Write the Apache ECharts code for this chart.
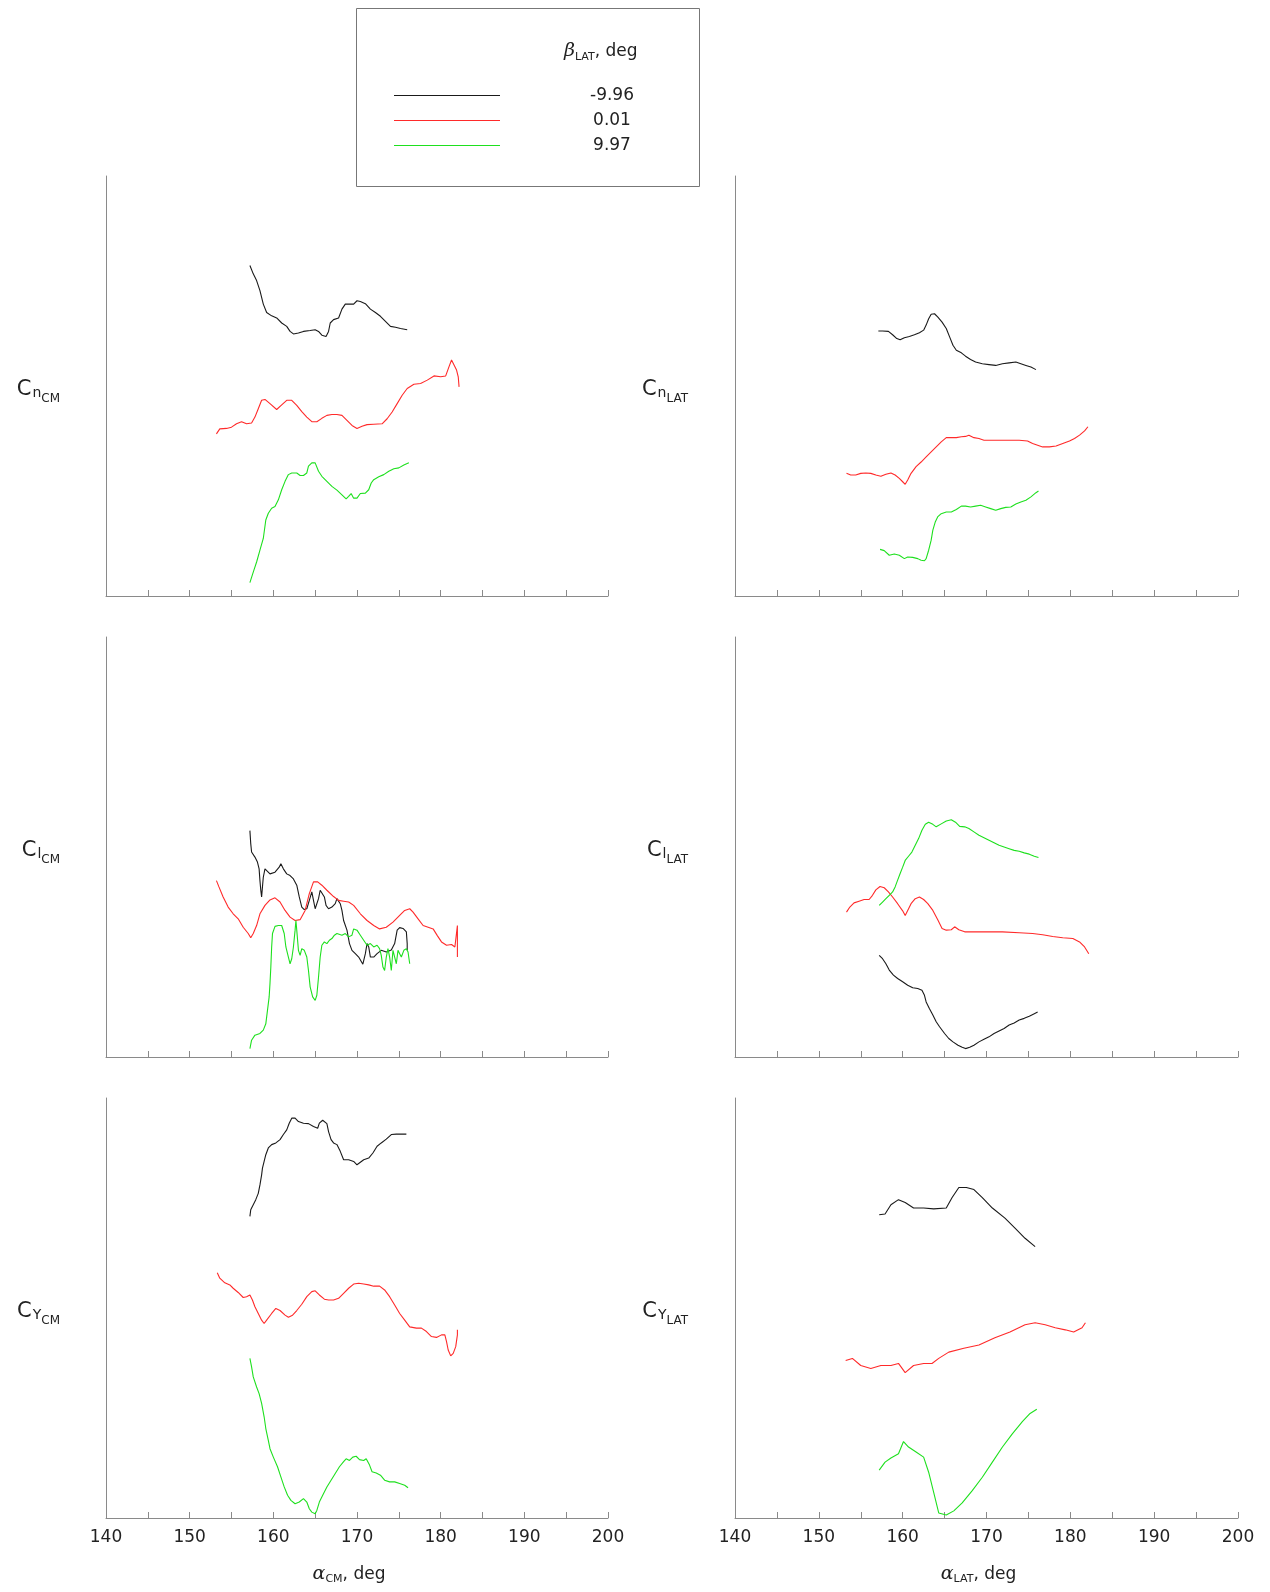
<!DOCTYPE html>
<html>
<head>
<meta charset="utf-8">
<script src="https://cdn.jsdelivr.net/npm/echarts@6/dist/echarts.min.js"></script>
<style>
html,body{margin:0;padding:0;background:#fff;}
#chart{width:1270px;height:1592px;}
</style>
</head>
<body>
<div id="chart"></div>
<script>
// ---- legend / categories ----
const betaNames = ['-9.96', '0.01', '9.97'];
const xTicks = [140, 150, 160, 170, 180, 190, 200];

// ---- Cn_CM ----
const cnCM_neg = [[157.2,78.7],[157.6,76.7],[158.0,75.1],[158.4,72.7],[158.8,69.5],[159.2,67.5],[159.8,66.7],[160.4,66.2],[161.0,65.0],[161.6,64.2],[162.0,63.0],[162.4,62.4],[163.0,62.6],[163.6,63.0],[164.4,63.2],[165.0,63.4],[165.4,63.0],[165.8,62.1],[166.3,61.8],[166.6,63.0],[166.8,65.0],[167.2,65.8],[167.8,66.2],[168.2,68.3],[168.6,69.5],[169.2,69.5],[169.6,69.5],[170.0,70.3],[170.4,70.1],[171.0,69.6],[171.6,68.3],[172.2,67.5],[172.8,66.6],[173.4,65.4],[174.0,64.2],[174.6,64.0],[175.2,63.7],[176.0,63.4]];
const cnCM_zero = [[153.2,38.6],[153.6,39.8],[154.4,39.9],[155.0,40.2],[155.6,41.0],[156.2,41.5],[156.8,41.0],[157.4,41.2],[157.8,42.6],[158.2,44.6],[158.6,46.6],[159.0,46.8],[159.6,45.8],[160.4,44.4],[161.0,45.5],[161.6,46.6],[162.2,46.6],[162.8,45.4],[163.4,43.9],[164.0,42.6],[164.6,41.5],[165.2,41.5],[165.8,42.3],[166.4,43.0],[167.0,43.2],[167.6,43.2],[168.2,43.0],[168.8,41.8],[169.4,40.6],[170.0,39.9],[170.6,40.4],[171.2,40.8],[172.0,40.9],[173.0,41.0],[173.6,42.2],[174.2,43.8],[174.8,45.8],[175.4,47.8],[176.0,49.4],[176.8,50.4],[177.6,50.6],[178.4,51.4],[179.2,52.4],[180.0,52.2],[180.6,52.4],[181.0,54.6],[181.3,56.2],[181.6,55.0],[181.9,53.8],[182.1,52.2],[182.2,49.8]];
const cnCM_pos = [[157.2,3.2],[157.6,5.7],[158.0,8.1],[158.4,10.9],[158.8,13.7],[159.1,18.1],[159.4,19.7],[159.8,20.9],[160.2,21.3],[160.6,22.9],[161.0,25.3],[161.4,27.3],[161.8,28.9],[162.2,29.3],[162.8,29.3],[163.2,28.7],[163.6,28.7],[164.0,29.3],[164.2,30.9],[164.6,31.7],[165.0,31.7],[165.4,29.7],[165.8,28.5],[166.4,27.3],[167.0,26.1],[167.6,25.2],[168.2,24.1],[168.7,23.1],[169.0,23.7],[169.3,24.4],[169.6,23.3],[170.0,23.3],[170.4,24.4],[171.0,24.5],[171.4,25.3],[171.7,26.9],[172.0,27.7],[172.6,28.4],[173.2,28.9],[173.8,29.7],[174.4,30.3],[175.0,30.5],[175.6,31.2],[176.2,31.7]];

// ---- Cn_LAT ----
const cnLAT_neg = [[157.1,63.1],[157.6,63.1],[158.3,63.0],[158.8,62.2],[159.3,61.3],[159.7,61.0],[160.2,61.5],[160.8,61.8],[161.4,62.2],[162.0,62.7],[162.5,63.3],[162.8,64.5],[163.1,66.0],[163.4,67.1],[163.8,67.2],[164.2,66.4],[164.7,65.2],[165.2,63.7],[165.6,61.7],[166.0,59.7],[166.4,58.5],[167.0,57.9],[167.5,57.1],[168.1,56.3],[168.7,55.7],[169.5,55.3],[170.3,55.1],[171.1,54.9],[171.9,55.3],[172.7,55.5],[173.5,55.7],[174.1,55.3],[174.7,54.9],[175.3,54.5],[175.9,53.9]];
const cnLAT_zero = [[153.3,29.2],[153.8,28.8],[154.4,28.8],[155.0,29.2],[155.6,29.3],[156.2,29.2],[156.8,28.8],[157.4,28.5],[158.0,29.0],[158.6,29.3],[159.1,28.8],[159.6,28.0],[160.0,27.2],[160.3,26.6],[160.6,27.6],[161.0,29.2],[161.6,30.8],[162.2,31.9],[162.8,33.1],[163.4,34.3],[164.0,35.5],[164.6,36.7],[165.2,37.7],[165.8,37.7],[166.4,37.7],[167.0,37.9],[167.5,38.0],[167.9,38.3],[168.5,37.7],[169.1,37.5],[169.7,37.1],[170.5,37.1],[171.5,37.1],[172.7,37.1],[173.9,37.1],[174.9,36.9],[175.5,36.3],[176.1,35.9],[176.7,35.5],[177.5,35.5],[178.3,35.7],[179.1,36.3],[179.9,36.9],[180.5,37.5],[181.1,38.3],[181.7,39.3],[182.1,40.3]];
const cnLAT_pos = [[157.3,11.1],[157.8,10.8],[158.4,9.7],[159.0,10.0],[159.6,9.7],[160.2,8.9],[160.6,9.3],[161.2,9.2],[161.8,8.9],[162.2,8.5],[162.6,8.4],[162.8,8.9],[163.1,10.9],[163.4,13.3],[163.6,15.7],[163.9,17.7],[164.2,18.9],[164.6,19.6],[165.2,20.0],[165.8,20.0],[166.4,20.6],[167.0,21.4],[167.5,21.4],[168.1,21.2],[168.7,21.4],[169.3,21.6],[169.9,21.2],[170.5,20.8],[171.1,20.4],[171.7,20.8],[172.3,21.1],[172.9,21.2],[173.5,21.9],[174.1,22.4],[174.7,22.8],[175.3,23.6],[175.9,24.6],[176.2,25.0]];

// ---- Cl_CM ----
const clCM_neg = [[157.2,53.9],[157.3,50.8],[157.4,48.8],[157.8,47.6],[158.1,46.4],[158.3,44.8],[158.4,42.0],[158.5,39.7],[158.6,38.1],[158.7,40.5],[158.8,42.8],[159.0,44.8],[159.2,44.4],[159.6,43.6],[160.2,44.0],[160.7,45.2],[160.9,46.0],[161.2,44.8],[161.6,43.6],[162.0,43.2],[162.4,42.4],[162.8,40.9],[163.1,38.1],[163.4,35.7],[163.7,35.1],[164.0,35.3],[164.3,37.3],[164.6,39.3],[164.8,37.3],[165.0,35.3],[165.2,34.9],[165.4,37.7],[165.6,39.7],[165.8,40.1],[166.1,38.1],[166.3,36.1],[166.6,35.3],[167.0,35.7],[167.4,36.5],[167.6,37.7],[168.0,36.5],[168.2,34.9],[168.4,32.5],[168.8,30.2],[169.1,27.0],[169.4,25.4],[169.8,24.6],[170.2,23.8],[170.7,22.1],[171.0,24.6],[171.2,27.0],[171.4,26.2],[171.6,23.8],[172.0,23.8],[172.4,24.6],[172.9,25.4],[173.5,25.0],[174.1,25.5],[174.5,27.0],[174.8,30.2],[175.1,30.8],[175.5,30.6],[175.9,29.8],[176.0,27.0],[176.0,25.4]];
const clCM_zero = [[153.2,42.0],[153.5,40.5],[154.0,38.1],[154.6,35.7],[155.2,34.1],[155.8,32.9],[156.4,30.9],[157.0,29.4],[157.3,28.4],[157.6,29.4],[158.0,31.3],[158.4,34.1],[159.0,36.1],[159.6,37.4],[160.2,37.9],[160.8,36.9],[161.4,34.9],[162.0,33.3],[162.6,32.5],[163.2,32.7],[163.8,34.9],[164.3,38.9],[164.8,41.7],[165.3,41.7],[165.8,40.9],[166.4,39.7],[167.2,38.2],[167.8,37.3],[168.4,37.1],[169.0,36.9],[169.6,36.1],[170.4,34.1],[171.2,32.5],[172.0,31.3],[172.7,30.5],[173.5,30.9],[174.3,32.1],[175.1,33.7],[175.7,34.9],[176.3,35.3],[176.7,34.5],[177.3,32.9],[177.9,31.3],[178.5,30.9],[179.1,30.5],[179.6,28.9],[180.1,27.4],[180.7,26.6],[181.3,26.8],[181.7,26.2],[182.0,31.3],[182.0,23.8]];
const clCM_pos = [[157.2,2.0],[157.4,4.0],[157.8,5.2],[158.4,5.6],[158.8,6.4],[159.1,7.9],[159.3,11.1],[159.5,14.3],[159.6,17.5],[159.7,21.4],[159.8,26.2],[159.9,29.4],[160.2,31.1],[160.6,31.3],[161.0,31.3],[161.3,29.4],[161.5,26.2],[161.8,23.8],[162.0,22.2],[162.2,23.4],[162.4,26.2],[162.6,30.2],[162.7,32.5],[162.8,30.2],[163.0,25.4],[163.2,24.2],[163.4,25.8],[163.7,25.4],[164.0,23.8],[164.2,20.6],[164.4,16.7],[164.7,14.3],[165.0,13.5],[165.2,14.7],[165.4,19.0],[165.6,23.8],[165.8,26.6],[166.1,27.4],[166.4,27.0],[166.7,27.8],[167.0,28.2],[167.3,29.0],[167.6,29.4],[168.2,29.0],[168.6,29.4],[169.0,28.6],[169.4,29.0],[169.6,30.5],[170.0,30.2],[170.4,29.0],[170.8,27.8],[171.2,26.6],[171.6,27.0],[172.0,26.2],[172.4,26.6],[172.7,25.8],[172.9,24.2],[173.1,21.4],[173.3,20.6],[173.5,23.8],[173.7,25.8],[173.9,23.8],[174.1,20.6],[174.3,25.4],[174.5,23.8],[174.7,22.2],[174.9,25.4],[175.1,24.6],[175.3,23.8],[175.6,25.4],[175.9,25.8],[176.1,25.0],[176.3,22.2]];

// ---- Cl_LAT ----
const clLAT_neg = [[157.2,24.2],[157.6,23.4],[158.0,22.2],[158.4,20.7],[158.9,19.5],[159.4,18.7],[160.0,17.9],[160.6,17.1],[161.2,16.5],[161.8,16.3],[162.3,15.9],[162.6,14.7],[162.8,13.1],[163.2,11.5],[163.6,10.0],[164.0,8.4],[164.4,7.2],[165.0,5.6],[165.5,4.4],[166.0,3.6],[166.6,2.8],[167.1,2.3],[167.5,2.0],[168.0,2.3],[168.5,2.8],[169.1,3.6],[169.7,4.2],[170.3,4.8],[170.9,5.6],[171.5,6.2],[172.1,6.8],[172.7,7.6],[173.3,8.1],[173.9,8.8],[174.5,9.2],[175.1,9.7],[175.7,10.3],[176.1,10.7]];
const clLAT_zero = [[153.3,34.5],[153.7,35.7],[154.2,36.7],[154.8,37.1],[155.4,37.5],[156.0,37.5],[156.4,38.5],[156.8,39.8],[157.3,40.6],[157.8,40.3],[158.3,39.3],[158.8,38.1],[159.4,36.5],[160.0,34.8],[160.3,33.7],[160.6,34.9],[161.0,36.5],[161.5,37.7],[162.0,38.1],[162.5,37.5],[163.0,36.5],[163.6,34.9],[164.2,32.6],[164.7,30.6],[165.2,30.2],[165.8,30.3],[166.2,31.0],[166.7,30.3],[167.4,29.8],[168.3,29.8],[169.9,29.8],[171.9,29.8],[173.9,29.6],[175.5,29.4],[176.7,29.1],[177.9,28.7],[179.1,28.4],[180.3,28.2],[181.1,27.4],[181.7,26.2],[182.2,24.6]];
const clLAT_pos = [[157.2,36.1],[157.6,36.9],[158.0,37.7],[158.4,38.5],[158.8,39.3],[159.1,40.5],[159.4,42.1],[159.7,43.7],[160.0,45.2],[160.3,46.8],[160.7,47.8],[161.1,48.8],[161.5,50.4],[161.9,52.0],[162.3,54.0],[162.7,55.4],[163.1,55.9],[163.6,55.4],[164.0,54.8],[164.6,55.5],[165.2,56.2],[165.8,56.5],[166.3,55.9],[166.8,54.9],[167.4,54.8],[167.9,54.4],[168.5,53.6],[169.1,52.8],[169.7,52.2],[170.3,51.6],[170.9,51.0],[171.5,50.4],[172.1,50.0],[172.7,49.6],[173.3,49.2],[173.9,49.0],[174.5,48.6],[175.1,48.3],[175.7,47.8],[176.2,47.5]];

// ---- CY_CM ----
const cyCM_neg = [[157.2,71.8],[157.3,73.4],[157.6,74.6],[157.9,75.8],[158.2,77.3],[158.4,79.3],[158.6,81.7],[158.7,83.3],[158.9,84.9],[159.1,86.5],[159.4,88.1],[159.8,88.9],[160.3,89.3],[160.8,90.1],[161.2,91.3],[161.6,92.4],[161.9,94.0],[162.2,95.2],[162.6,95.2],[163.0,94.4],[163.6,94.0],[164.2,93.9],[164.8,93.2],[165.3,92.8],[165.5,94.0],[165.9,94.7],[166.4,93.9],[166.6,92.0],[166.9,90.1],[167.2,89.3],[167.6,88.9],[168.0,87.3],[168.4,85.3],[169.0,85.3],[169.6,84.9],[170.0,84.1],[170.4,84.7],[170.8,85.3],[171.4,85.7],[171.9,86.9],[172.4,88.5],[172.9,89.3],[173.5,90.2],[174.1,91.3],[174.7,91.4],[175.3,91.4],[175.9,91.4]];
const cyCM_zero = [[153.3,58.4],[153.6,57.1],[154.2,56.0],[154.8,55.5],[155.2,54.7],[155.8,53.7],[156.4,52.5],[156.8,52.7],[157.2,53.1],[157.5,51.9],[157.8,50.3],[158.2,48.7],[158.6,47.1],[158.9,46.3],[159.2,47.1],[159.8,48.7],[160.3,49.9],[160.8,49.4],[161.4,48.3],[161.8,47.8],[162.3,48.3],[162.8,49.4],[163.4,50.9],[164.0,52.7],[164.6,53.9],[165.0,54.1],[165.5,53.1],[166.1,52.1],[166.6,51.9],[167.2,51.9],[167.8,52.3],[168.4,53.5],[169.0,54.7],[169.6,55.7],[170.2,55.9],[170.8,55.7],[171.4,55.5],[172.0,55.2],[172.7,55.2],[173.3,54.3],[173.9,52.7],[174.5,50.7],[175.1,48.7],[175.7,47.1],[176.3,45.5],[177.1,45.2],[177.7,45.2],[178.3,44.4],[178.9,43.2],[179.5,43.0],[180.1,43.6],[180.5,43.6],[180.7,42.0],[180.9,40.0],[181.2,38.6],[181.5,39.2],[181.8,40.8],[182.0,43.6],[182.0,44.8]];
const cyCM_pos = [[157.2,38.0],[157.4,36.0],[157.6,33.6],[158.0,31.2],[158.3,29.6],[158.6,27.3],[158.9,24.1],[159.1,21.3],[159.4,18.5],[159.6,16.5],[160.0,14.5],[160.5,12.2],[160.9,9.8],[161.3,7.4],[161.7,5.4],[162.1,4.2],[162.6,3.4],[163.1,3.8],[163.6,4.6],[164.0,3.8],[164.3,2.2],[164.6,1.4],[165.0,1.0],[165.2,1.8],[165.5,3.8],[165.9,5.4],[166.4,7.4],[166.9,9.0],[167.4,10.6],[167.9,12.2],[168.4,13.4],[168.7,14.1],[169.1,13.7],[169.5,14.5],[169.9,14.7],[170.3,13.9],[170.8,13.7],[171.1,14.1],[171.5,12.6],[171.8,11.0],[172.3,10.7],[172.8,10.2],[173.3,9.0],[173.9,8.6],[174.5,8.6],[175.1,8.2],[175.7,7.8],[176.1,7.2]];

// ---- CY_LAT ----
const cyLAT_neg = [[157.2,72.2],[157.9,72.4],[158.6,74.6],[159.5,75.8],[160.3,75.1],[161.3,73.8],[162.5,73.8],[163.7,73.6],[165.2,73.8],[165.9,76.3],[166.7,78.7],[167.6,78.7],[168.5,78.2],[169.5,76.3],[170.7,73.8],[172.2,71.4],[173.4,69.0],[174.6,66.6],[175.8,64.6]];
const cyLAT_zero = [[153.2,37.5],[154.0,38.0],[155.0,36.3],[156.2,35.6],[157.4,36.3],[158.6,36.3],[159.5,36.8],[160.3,34.6],[161.3,36.3],[162.5,36.8],[163.5,36.8],[164.3,38.0],[165.5,39.5],[167.3,40.4],[169.1,41.2],[171.0,42.9],[172.8,44.3],[174.6,46.0],[175.8,46.5],[177.0,46.0],[178.2,45.3],[179.4,44.8],[180.4,44.3],[181.4,45.3],[181.8,46.5]];
const cyLAT_pos = [[157.2,11.4],[157.9,13.3],[158.6,14.3],[159.5,15.3],[160.1,18.2],[160.7,16.9],[161.6,15.7],[162.5,14.5],[163.1,10.9],[163.7,6.1],[164.3,1.2],[165.2,0.7],[166.1,1.7],[167.1,3.6],[168.3,6.5],[169.5,9.7],[170.7,13.3],[171.9,16.9],[173.1,20.1],[174.3,23.0],[175.2,24.9],[176.0,25.9]];

// ---- panel descriptions ----
const panels = [
  {sub: 'n', frame: 'CM',  data: [cnCM_neg, cnCM_zero, cnCM_pos]},
  {sub: 'n', frame: 'LAT', data: [cnLAT_neg, cnLAT_zero, cnLAT_pos]},
  {sub: 'l', frame: 'CM',  data: [clCM_neg, clCM_zero, clCM_pos]},
  {sub: 'l', frame: 'LAT', data: [clLAT_neg, clLAT_zero, clLAT_pos]},
  {sub: 'Y', frame: 'CM',  data: [cyCM_neg, cyCM_zero, cyCM_pos]},
  {sub: 'Y', frame: 'LAT', data: [cyLAT_neg, cyLAT_zero, cyLAT_pos]}
];
const colors = ['#1a1a1a', '#ff2a2a', '#1ee01e'];

const FONT = 'DejaVu Sans';
const axisGray = '#8a8a8a';
const colLeft = [106, 735];
const rowTop = [176, 637, 1098];
const gridW = 502, gridH = 420;

const grids = [], xAxes = [], yAxes = [], series = [];
panels.forEach((p, i) => {
  const col = i % 2, row = Math.floor(i / 2);
  const bottomRow = row === 2;
  grids.push({left: colLeft[col], top: rowTop[row], width: gridW + col, height: gridH});
  xAxes.push({
    type: 'value', gridIndex: i, min: 140, max: 200, interval: 5,
    axisLine: {show: true, lineStyle: {color: axisGray, width: 1}},
    axisTick: {show: true, inside: true, length: 6, lineStyle: {color: axisGray}},
    splitLine: {show: false},
    axisLabel: {
      show: bottomRow, margin: 11, color: '#222', fontFamily: FONT, fontSize: 17,
      formatter: v => (xTicks.indexOf(v) >= 0 ? String(v) : '')
    },
    name: bottomRow ? '{a|α}{s|' + p.frame + '}{d|, deg}' : '',
    nameLocation: 'middle', nameGap: 47,
    nameTextStyle: {
      color: '#222', fontFamily: FONT, fontSize: 17, padding: [0, 16, 0, 0],
      rich: {
        a: {fontFamily: 'DejaVu Serif', fontStyle: 'italic', fontSize: 19, color: '#222', verticalAlign: 'top'},
        s: {fontFamily: FONT, fontSize: 11, color: '#222', padding: [9, 0, 0, 0], verticalAlign: 'top'},
        d: {fontFamily: FONT, fontSize: 17, color: '#222', padding: [1, 0, 0, 0], verticalAlign: 'top'}
      }
    }
  });
  yAxes.push({
    type: 'value', gridIndex: i, min: 0, max: 100,
    axisLine: {show: true, lineStyle: {color: axisGray, width: 1}},
    axisTick: {show: false}, axisLabel: {show: false}, splitLine: {show: false},
    name: '{c|C}{s|' + p.sub + '}{t|' + p.frame + '}',
    nameLocation: 'middle', nameRotate: 0, nameGap: col === 0 ? 46 : 47,
    nameTextStyle: {
      color: '#222', fontFamily: FONT, padding: [12, 0, 0, 0],
      rich: {
        c: {fontSize: 21, fontFamily: FONT, color: '#222', verticalAlign: 'top'},
        s: {fontSize: 14, fontFamily: FONT, color: '#222', padding: [7, 0, 0, 1], verticalAlign: 'top'},
        t: {fontSize: 12, fontFamily: FONT, color: '#222', padding: [14, 0, 0, 0], verticalAlign: 'top'}
      }
    }
  });
  p.data.forEach((d, k) => {
    series.push({
      type: 'line', name: betaNames[k], xAxisIndex: i, yAxisIndex: i,
      data: d, symbol: 'none', showSymbol: false, smooth: false,
      lineStyle: {color: colors[k], width: 1.1}, itemStyle: {color: colors[k]},
      animation: false, silent: true
    });
  });
});

const chart = echarts.init(document.getElementById('chart'), null, {renderer: 'canvas'});
chart.setOption({
  backgroundColor: '#ffffff',
  animation: false,
  grid: grids, xAxis: xAxes, yAxis: yAxes, series: series,
  legend: {
    data: betaNames, orient: 'vertical', left: 389, top: 82,
    itemWidth: 106, itemHeight: 14, itemGap: 8,
    icon: 'path://M0,7L106,7L106,8L0,8Z',
    selectedMode: false,
    formatter: n => '{v|' + n + '}',
    textStyle: {
      color: '#222', fontFamily: FONT, fontSize: 17,
      rich: {v: {width: 214, align: 'center', fontSize: 17, fontFamily: FONT, color: '#222', lineHeight: 20}}
    }
  },
  graphic: [
    {type: 'rect', shape: {x: 356.5, y: 8.5, width: 343, height: 178},
     style: {fill: 'none', stroke: '#777', lineWidth: 1}, silent: true, z: -1},
    {type: 'text', left: 564, top: 42, silent: true,
     style: {
       text: '{b|β}{s|LAT}{d|, deg}',
       rich: {
         b: {fontFamily: 'DejaVu Serif', fontStyle: 'italic', fontSize: 19, fill: '#222', verticalAlign: 'top'},
         s: {fontFamily: FONT, fontSize: 11, fill: '#222', padding: [10, 0, 0, 0], verticalAlign: 'top'},
         d: {fontFamily: FONT, fontSize: 17, fill: '#222', padding: [1, 0, 0, 0], verticalAlign: 'top'}
       }
     }}
  ]
});
</script>
</body>
</html>
